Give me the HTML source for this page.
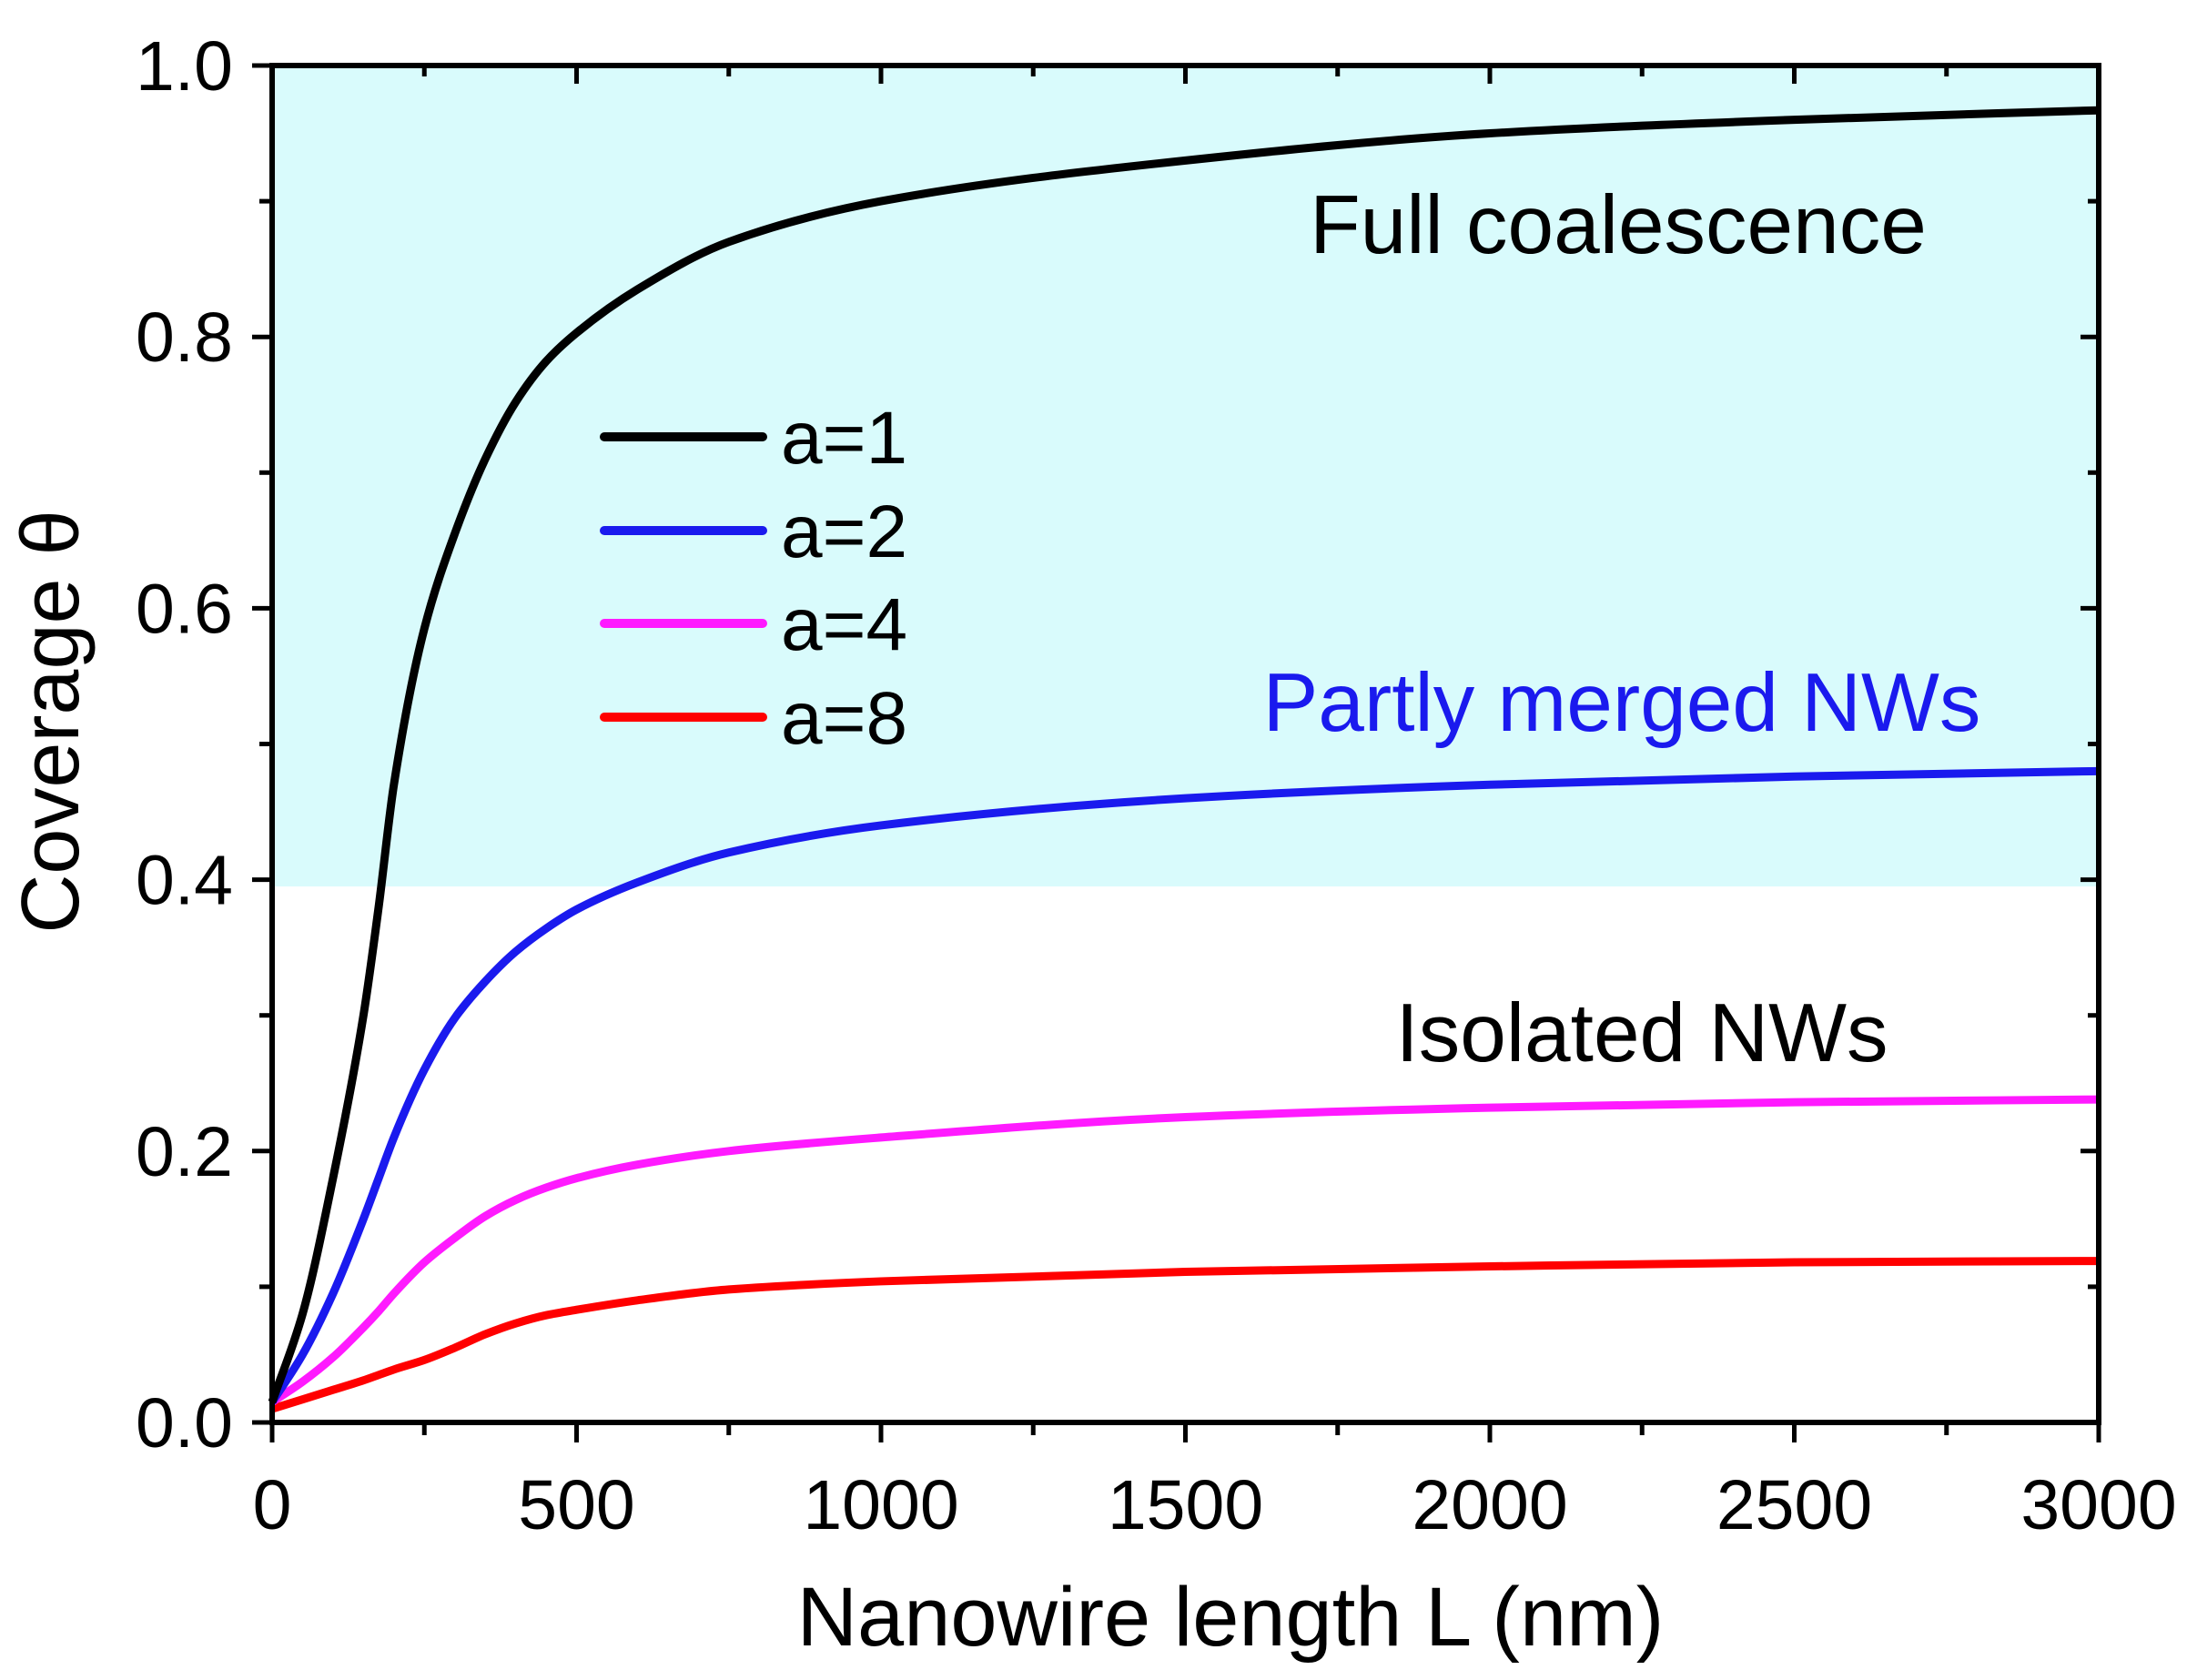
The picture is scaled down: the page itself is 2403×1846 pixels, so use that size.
<!DOCTYPE html>
<html><head><meta charset="utf-8"><style>
html,body{margin:0;padding:0;background:#fff;}
svg{display:block;font-family:"Liberation Sans",Arial,sans-serif;}
</style></head><body>
<svg id="chart" width="2403" height="1846" viewBox="0 0 2403 1846">
<rect id="shade" fill="#d9fbfc"/>
<g id="curves"></g>
<g id="axes"></g>
<text x="1778" y="278" font-size="91" text-anchor="middle" fill="#000">Full coalescence</text>
<text x="1782" y="803" font-size="91" text-anchor="middle" fill="#1a1aee">Partly merged NWs</text>
<text x="1804" y="1166" font-size="91" text-anchor="middle" fill="#000">Isolated NWs</text>
<text x="1352" y="1808" font-size="92" text-anchor="middle">Nanowire length L (nm)</text>
<text transform="translate(86,793) rotate(-90)" font-size="90" text-anchor="middle">Coverage θ</text>
<g id="legend"></g>
</svg>
<script>
const xs = [0,50,100,150,175,200,250,300,350,400,450,500,600,750,1000,1500,2000,2500,3000];
const a1 = [0.015,0.08,0.18,0.3,0.38,0.47,0.585,0.655,0.71,0.752,0.782,0.803,0.835,0.87,0.90,0.93,0.95,0.96,0.967];
const a2 = [0.015,0.05,0.095,0.15,0.18,0.21,0.26,0.298,0.325,0.347,0.364,0.378,0.398,0.42,0.44,0.46,0.47,0.476,0.48];
const a4 = [0.015,0.03,0.048,0.07,0.082,0.095,0.118,0.136,0.152,0.164,0.173,0.18,0.19,0.2,0.21,0.225,0.232,0.236,0.238];
const a8 = [0.01,0.017,0.024,0.031,0.035,0.039,0.046,0.055,0.065,0.073,0.079,0.083,0.09,0.098,0.104,0.111,0.115,0.118,0.119];
const seriesNames = ["a=1","a=2","a=4","a=8"];
const seriesColors = ["#000000","#1a1aee","#ff1aff","#ff0000"];
const xTicks = [0,500,1000,1500,2000,2500,3000];
const yTicks = [0.0,0.2,0.4,0.6,0.8,1.0];
const shadeRange = [0.395,1.0];

const L=299,R=2306,T=72,B=1563;
const sx=v=>L+(v/3000)*(R-L);
const sy=v=>B-(v/1.0)*(B-T);
const NS="http://www.w3.org/2000/svg";
function mk(tag,attrs,parent){const e=document.createElementNS(NS,tag);for(const k in attrs)e.setAttribute(k,attrs[k]);parent.appendChild(e);return e;}

const sh=document.getElementById('shade');
sh.setAttribute('x',L);sh.setAttribute('width',R-L);
sh.setAttribute('y',sy(shadeRange[1]));sh.setAttribute('height',sy(shadeRange[0])-sy(shadeRange[1]));

function smoothPath(xv,yv){
  const X=xv.map(sx),Y=yv.map(sy),n=X.length;
  const d=[],m=new Array(n);
  for(let i=0;i<n-1;i++)d.push((Y[i+1]-Y[i])/(X[i+1]-X[i]));
  m[0]=d[0];m[n-1]=d[n-2];
  for(let i=1;i<n-1;i++){
    if(d[i-1]*d[i]<=0)m[i]=0;
    else{const h0=X[i]-X[i-1],h1=X[i+1]-X[i];const w1=2*h1+h0,w2=h1+2*h0;m[i]=(w1+w2)/(w1/d[i-1]+w2/d[i]);}
  }
  let s=`M${X[0]},${Y[0]}`;
  for(let i=0;i<n-1;i++){
    const h=(X[i+1]-X[i])/3;
    s+=` C${X[i]+h},${Y[i]+m[i]*h} ${X[i+1]-h},${Y[i+1]-m[i+1]*h} ${X[i+1]},${Y[i+1]}`;
  }
  return s;
}
const cg=document.getElementById('curves');
const allSeries=[a1,a2,a4,a8];
[3,2,1,0].forEach(i=>{
  const p=mk('path',{d:smoothPath(xs,allSeries[i]),fill:'none',stroke:seriesColors[i],'stroke-width':9,'stroke-linejoin':'round'},cg);
  
  
});

const ag=document.getElementById('axes');
const frame=mk('rect',{x:L,y:T,width:R-L,height:B-T,fill:'none',stroke:'#000','stroke-width':6},ag);


for(let v=0;v<=3000;v+=250){
  const major=v%500===0,x=sx(v);
  mk('line',{x1:x,x2:x,y1:B,y2:B+(major?22:14),stroke:'#000','stroke-width':5},ag);
  mk('line',{x1:x,x2:x,y1:T,y2:T+(major?20:12),stroke:'#000','stroke-width':5},ag);
}
for(let k=0;k<=10;k++){
  const v=k/10,y=sy(v),major=k%2===0;
  mk('line',{x1:L-(major?22:14),x2:L,y1:y,y2:y,stroke:'#000','stroke-width':5},ag);
  mk('line',{x1:R,x2:R-(major?20:12),y1:y,y2:y,stroke:'#000','stroke-width':5},ag);
}
xTicks.forEach(v=>{
  const t=mk('text',{x:sx(v),y:1680,'font-size':77,'text-anchor':'middle'},ag);
  t.textContent=v;
  
  
});
yTicks.forEach(v=>{
  const t=mk('text',{x:256,y:sy(v)+27,'font-size':77,'text-anchor':'end'},ag);
  t.textContent=v.toFixed(1);
  
  
});

const lg=document.getElementById('legend');
const ly=[480,583,685,788];
seriesNames.forEach((n,i)=>{
  const g=mk('g',{},lg);
  
  
  mk('line',{x1:664,x2:838,y1:ly[i],y2:ly[i],stroke:seriesColors[i],'stroke-width':10,'stroke-linecap':'round'},g);
  const t=mk('text',{x:858,y:ly[i]+29,'font-size':82},g);
  t.textContent=n;
});
</script>
</body></html>
